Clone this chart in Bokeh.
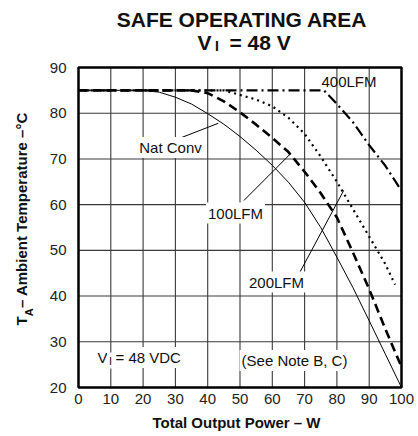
import numpy as np
from bokeh.plotting import figure
from bokeh.models import Range1d, FixedTicker, Label, LinearAxis
from bokeh.embed import file_html
from bokeh.resources import INLINE

# Axis ticks
power_ticks = [0, 10, 20, 30, 40, 50, 60, 70, 80, 90, 100]
temp_ticks = [20, 30, 40, 50, 60, 70, 80, 90]

# Derating curves: ambient temperature (°C) vs total output power (W)
nat_conv_power = [0, 20, 25, 30, 35, 40, 45, 50, 55, 60, 65, 70, 75, 80, 85, 90, 95, 100]
nat_conv_temp = [85, 85, 84.6, 83.5, 82, 79.9, 77.6, 74.9, 71.9, 68.6, 64.9, 60.5, 55, 48.5, 41.8, 34.6, 27.3, 20]

lfm100_power = [0, 35, 40, 45, 50, 55, 60, 65, 70, 75, 80, 85, 90, 95, 100]
lfm100_temp = [85, 85, 84.4, 82.6, 80.2, 77.5, 74.6, 71.5, 67.2, 62.5, 57.2, 49.5, 41.5, 32.8, 24.5]

lfm200_power = [0, 45, 50, 55, 60, 65, 70, 75, 80, 85, 90, 95, 98]
lfm200_temp = [85, 85, 84, 83, 81.5, 79, 75.5, 70.5, 65, 59, 53, 47, 42.5]

lfm400_power = [0, 76, 80, 85, 90, 95, 100]
lfm400_temp = [85, 85, 82, 78, 73, 68.5, 63]

# Leader lines from curve labels to their curves
leader_x0 = [29.4, 51.2, 67.7]
leader_y0 = [74.0, 60.9, 44.1]
leader_x1 = [43.3, 65.6, 82.1]
leader_y1 = [77.8, 71.1, 63.1]

W, H = 418, 436
# plot-area box in canvas pixels
FL, FR, FT, FB = 78, 401, 67, 387
X0, X1, Y0, Y1 = 0, 100, 20, 90


def px_x(px):
    return X0 + (px - FL) / (FR - FL) * (X1 - X0)


def px_y(py):
    return Y1 - (py - FT) / (FB - FT) * (Y1 - Y0)


FONT = "Liberation Sans"

# The frame spans the whole canvas so that titles and notes can sit around the plot box
p = figure(width=W, height=H,
           x_range=Range1d(px_x(0), px_x(W)), y_range=Range1d(px_y(H), px_y(0)),
           output_backend="svg", toolbar_location=None,
           x_axis_location=None, y_axis_location=None,
           min_border=0)
p.background_fill_color = "white"
p.border_fill_color = "white"
p.outline_line_color = None
p.xgrid.visible = False
p.ygrid.visible = False

# Axes pinned to the edges of the plot box
xaxis = LinearAxis(fixed_location=Y0, bounds=(X0, X1), ticker=FixedTicker(ticks=power_ticks))
yaxis = LinearAxis(fixed_location=X0, bounds=(Y0, Y1), ticker=FixedTicker(ticks=temp_ticks))
for ax in (xaxis, yaxis):
    ax.major_tick_line_color = None
    ax.minor_tick_line_color = None
    ax.axis_line_color = None
    ax.major_label_text_font = FONT
    ax.major_label_text_font_size = "15px"
    ax.major_label_text_color = "#222222"
xaxis.major_label_standoff = 0
yaxis.major_label_standoff = 6
p.add_layout(xaxis, "below")
p.add_layout(yaxis, "left")

# Grid lines inside the plot box
p.segment(x0=power_ticks, y0=[Y0] * len(power_ticks), x1=power_ticks, y1=[Y1] * len(power_ticks),
          line_color="#3a3a3a", line_width=1.1)
p.segment(x0=[X0] * len(temp_ticks), y0=temp_ticks, x1=[X1] * len(temp_ticks), y1=temp_ticks,
          line_color="#3a3a3a", line_width=1.1)

# Curves
p.line(nat_conv_power, nat_conv_temp, line_color="black", line_width=1)
p.line(lfm100_power, lfm100_temp, line_color="black", line_width=2.6, line_dash="9 5")
p.line(lfm200_power, lfm200_temp, line_color="black", line_width=2.2, line_dash="2 4")
p.line(lfm400_power, lfm400_temp, line_color="black", line_width=2.2, line_dash="11 4 2 4")

p.segment(leader_x0, leader_y0, leader_x1, leader_y1, line_color="black", line_width=1)

# Plot box border
p.quad(left=[X0], right=[X1], bottom=[Y0], top=[Y1], fill_color=None,
       line_color="black", line_width=2.5)


def add_text(text, px, py, size="15px", bold=False, align="left", baseline="alphabetic",
             bg=None, angle=0.0):
    lab = Label(x=px_x(px), y=px_y(py), text=text, text_font=FONT, text_font_size=size,
                text_font_style="bold" if bold else "normal", text_align=align,
                text_baseline=baseline, text_color="#111111", angle=angle)
    if bg:
        lab.background_fill_color = bg
        lab.padding = 2
    p.add_layout(lab)


# Curve labels
add_text("Nat Conv", 170, 147, align="center", baseline="middle", bg="white")
add_text("100LFM", 235, 212.5, align="center", baseline="middle", bg="white")
add_text("200LFM", 276, 281.5, align="center", baseline="middle", bg="white")
add_text("400LFM", 348.5, 81, align="center", baseline="middle")
add_text("(See Note B, C)", 294, 360, align="center", baseline="middle", bg="white")

# V_I = 48 VDC note
add_text("V", 95, 357, bg="white")
add_text("I", 106.5, 360, size="11px", bg="white")
add_text("= 48 VDC", 113, 357, bg="white")

# Title
add_text("SAFE OPERATING AREA", 241.5, 19, size="21px", bold=True, align="center")
add_text("V", 197, 41.5, size="21px", bold=True)
add_text("I", 214.5, 45.5, size="14px", bold=True)
add_text("= 48 V", 229, 41.5, size="21px", bold=True)

# Axis titles
add_text("Total Output Power \u2013 W", 236, 422, bold=True, align="center")
add_text("T", 21, 325, bold=True, angle=np.pi / 2)
add_text("A", 28, 315.8, size="11px", bold=True, angle=np.pi / 2)
add_text("\u2013 Ambient Temperature \u2013\u00b0C", 21, 307.5, bold=True, angle=np.pi / 2)

open("out.html", "w").write(file_html(p, INLINE))
